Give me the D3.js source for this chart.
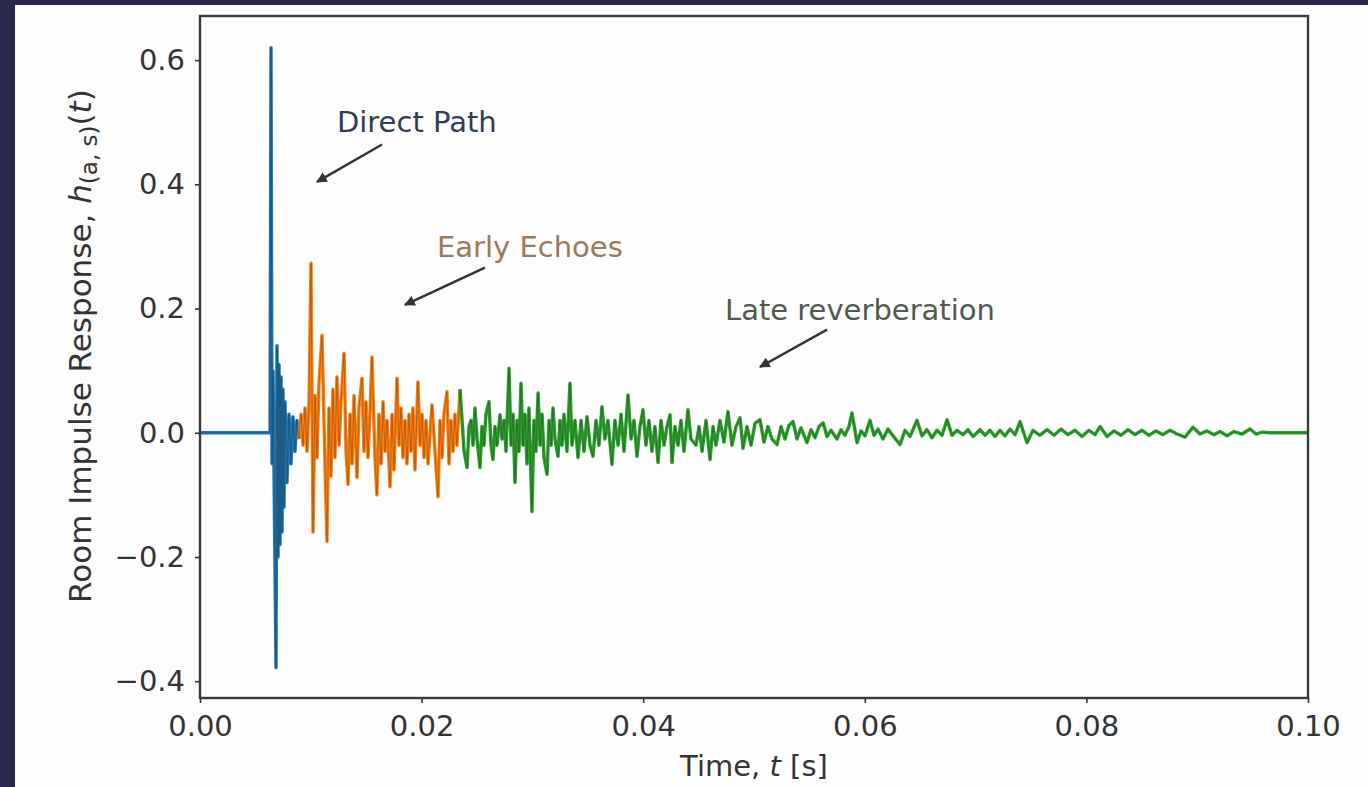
<!DOCTYPE html>
<html>
<head>
<meta charset="utf-8">
<style>
  body { margin: 0; background: #28284a; }
  text { font-family: "DejaVu Sans", sans-serif; }
</style>
<title>Room Impulse Response</title>
</head>
<body>
<script src="https://cdn.jsdelivr.net/npm/d3@7"></script>
<script>
// time in ms, amplitude in h units
var directTimes = [0, 6.32, 6.41, 6.50, 6.59, 6.77, 6.86, 6.95, 7.04, 7.13, 7.22, 7.31, 7.40, 7.49, 7.58, 7.67, 7.85, 8.03, 8.21, 8.39, 8.57, 8.75, 8.93];
var directValues = [0, 0, 0.62, -0.05, 0.10, -0.22, -0.378, 0.14, -0.20, 0.11, -0.18, 0.09, -0.16, 0.07, -0.12, 0.05, -0.08, 0.03, -0.05, 0.026, -0.03, 0.02, -0.01];

var earlyTimes = [8.93, 9.12, 9.30, 9.48, 9.66, 9.84, 10.02, 10.20, 10.38, 10.56, 10.74, 11.01, 11.28, 11.46, 11.64, 11.82, 12.00, 12.18, 12.36, 12.55, 12.73,
  13.00, 13.18, 13.36, 13.54, 13.72, 13.90, 14.17, 14.35, 14.62, 14.80, 14.98, 15.16, 15.34, 15.52, 15.79, 15.97, 16.15, 16.34, 16.52, 16.70, 16.88,
  17.15, 17.33, 17.51, 17.78, 17.96, 18.14, 18.32, 18.50, 18.68, 18.86, 19.04, 19.22, 19.40, 19.67, 19.86, 20.04, 20.22, 20.40, 20.58, 20.94, 21.21,
  21.48, 21.66, 21.84, 22.02, 22.29, 22.47, 22.65, 22.83, 23.01, 23.19, 23.47];
var earlyValues = [-0.01, 0.03, -0.02, 0.04, -0.03, 0.05, 0.273, -0.16, 0.06, -0.04, 0.08, 0.157, -0.05, -0.175, 0.04, -0.07, 0.07, -0.04, 0.09, -0.02, 0.05,
  0.128, -0.03, -0.083, 0.03, -0.05, 0.06, -0.072, 0.04, 0.088, -0.03, 0.05, -0.04, 0.03, 0.122, -0.04, -0.10, 0.03, -0.05, 0.05, -0.03, 0.02,
  -0.087, 0.03, -0.06, 0.088, -0.02, 0.04, -0.04, 0.02, -0.05, 0.03, -0.03, 0.04, -0.06, 0.082, -0.02, 0.03, -0.04, 0.02, -0.05, 0.045, -0.03,
  -0.103, 0.02, -0.04, 0.03, 0.066, -0.05, 0.02, -0.03, 0.03, -0.02, 0.07];

var lateTimes = [23.47, 23.65, 23.83, 24.10, 24.28, 24.46, 24.64, 24.82, 25.00, 25.27, 25.45, 25.63, 25.81, 26.08, 26.26, 26.44, 26.62, 26.81,
  27.08, 27.26, 27.44, 27.62, 27.89, 28.07, 28.25, 28.43, 28.61, 28.79, 28.97, 29.15, 29.33, 29.51, 29.69, 29.96, 30.14, 30.32, 30.51, 30.69,
  30.87, 31.05, 31.32, 31.50, 31.68, 31.86, 32.04, 32.31, 32.49, 32.67, 32.85, 33.12, 33.39, 33.57, 33.84, 34.12, 34.39, 34.66, 34.93, 35.20,
  35.47, 35.74, 36.01, 36.28, 36.55, 36.82, 37.18, 37.45, 37.73, 38.00, 38.27, 38.63, 38.90, 39.17, 39.44, 39.71, 39.98, 40.25, 40.52, 40.79,
  41.06, 41.34, 41.61, 41.88, 42.15, 42.42, 42.60, 42.87, 43.14, 43.41, 43.68, 44.04, 44.31, 44.77, 45.04, 45.31, 45.67, 46.03, 46.30, 46.57,
  46.93, 47.29, 47.65, 48.01, 48.38, 48.74, 49.01, 49.37, 49.73, 50.09, 50.54, 50.90, 51.26, 51.62, 52.08, 52.44, 52.80, 53.16, 53.52, 53.88,
  54.24, 54.78, 55.14, 55.51, 55.87, 56.23, 56.59, 56.95, 57.49, 57.85, 58.21, 58.57, 58.84, 59.30, 59.66, 60.02, 60.47, 60.83, 61.19, 61.64,
  62.09, 62.55, 63.18, 63.63, 64.08, 64.71, 65.16, 65.61, 66.06, 66.52, 66.97, 67.42, 67.87, 68.32, 68.86, 69.31, 69.77, 70.40, 70.85, 71.30,
  71.75, 72.20, 72.65, 73.10, 73.56, 74.01, 74.64, 75.18, 75.81, 76.44, 77.08, 77.71, 78.34, 78.97, 79.60, 80.23, 80.78, 81.23, 81.86, 82.49,
  83.12, 83.75, 84.39, 85.02, 85.65, 86.28, 86.91, 87.55, 88.18, 88.90, 89.62, 90.25, 90.88, 91.52, 92.06, 92.69, 93.32, 94.04, 94.77, 95.31,
  95.85, 96.57, 100];
var lateValues = [0.07, 0.02, -0.03, -0.056, 0.01, 0.02, -0.02, 0.04, -0.01, -0.056, 0.01, -0.02, 0.03, 0.05, -0.02, -0.043, 0.01, -0.02,
  0.029, -0.01, 0.02, -0.03, 0.104, -0.02, 0.03, -0.08, 0.02, -0.03, 0.08, -0.02, 0.03, -0.05, 0.04, -0.127, 0.02, -0.03, 0.064, -0.02,
  0.03, -0.04, -0.067, 0.02, -0.02, 0.04, -0.01, -0.038, 0.02, -0.02, 0.03, -0.03, 0.08, -0.02, 0.02, -0.04, 0.02, -0.03, 0.026, -0.02,
  -0.038, 0.02, -0.02, 0.042, -0.01, 0.02, -0.051, 0.02, -0.02, 0.03, -0.03, 0.061, -0.01, 0.02, -0.038, 0.01, 0.037, -0.02, 0.02, -0.03,
  0.01, -0.048, 0.02, -0.02, 0.01, 0.029, -0.048, 0.01, -0.02, 0.02, -0.03, 0.037, -0.01, -0.02, 0.01, -0.03, 0.02, -0.043, 0.01, -0.02,
  0.02, -0.015, 0.034, -0.02, 0.01, 0.024, -0.025, 0.01, -0.02, 0.015, 0.021, -0.015, 0.01, -0.01, -0.019, 0.01, -0.01, 0.012, 0.018, -0.01,
  0.008, -0.016, 0.005, -0.008, 0.01, 0.016, -0.006, 0.004, -0.01, 0.005, -0.004, 0.01, 0.032, -0.016, 0.003, -0.005, 0.02, -0.004, 0.006, -0.01,
  0.006, -0.005, -0.019, 0.004, -0.006, 0.02, -0.005, 0.005, -0.008, 0.004, -0.004, 0.021, -0.004, 0.004, -0.003, 0.005, -0.006, 0.005, -0.004, 0.004,
  -0.006, 0.004, -0.005, 0.006, -0.003, 0.018, -0.016, 0.004, -0.004, 0.005, -0.004, 0.006, -0.003, 0.004, -0.006, 0.004, -0.003, 0.01, -0.006, 0.003,
  -0.004, 0.005, -0.003, 0.004, -0.004, 0.003, -0.003, 0.004, -0.002, -0.007, 0.009, -0.002, 0.003, -0.003, 0.002, -0.005, 0.002, -0.002, 0.006, -0.002,
  0.001, 0, 0];

var xTicks = [0, 20, 40, 60, 80, 100];
var xTickLabels = ["0.00", "0.02", "0.04", "0.06", "0.08", "0.10"];
var yTicks = [-0.4, -0.2, 0.0, 0.2, 0.4, 0.6];
var yTickLabels = ["\u22120.4", "\u22120.2", "0.0", "0.2", "0.4", "0.6"];

var segmentNames = ["Direct Path", "Early Echoes", "Late reverberation"];
var segmentColors = ["#1f77b4", "#ff7f0e", "#2ca02c"];
var labelColors = ["#2f3d55", "#9a7a5c", "#505a50"];

// layout
var W = 1368, H = 787;
var margin = {top: 16, left: 200};
var width = 1108, height = 682;

var svg = d3.select("body").append("svg").attr("width", W).attr("height", H);
svg.append("rect").attr("width", W).attr("height", H).attr("fill", "#28284a");
svg.append("rect").attr("x", 15).attr("y", 5).attr("width", W - 15).attr("height", H - 5).attr("fill", "#fdfdfd");

var g = svg.append("g").attr("transform", "translate(" + margin.left + "," + margin.top + ")");

var x = d3.scaleLinear().domain([0, 100]).range([0, width]);
var y = d3.scaleLinear().domain([-0.427, 0.671]).range([height, 0]);

var line = d3.line().x(function(d) { return x(d[0]); }).y(function(d) { return y(d[1]); });

var segments = [d3.zip(directTimes, directValues), d3.zip(earlyTimes, earlyValues), d3.zip(lateTimes, lateValues)];

// coloured segments
g.selectAll(".seg").data(segments).join("path")
  .attr("class", "seg")
  .attr("d", line)
  .attr("fill", "none")
  .attr("stroke", function(d, i) { return segmentColors[i]; })
  .attr("stroke-width", 3.4)
  .attr("stroke-linejoin", "round");

// thin dark trace on top, gives the darker peaks
g.selectAll(".trace").data(segments).join("path")
  .attr("class", "trace")
  .attr("d", line)
  .attr("fill", "none")
  .attr("stroke", "#1a1a1a")
  .attr("stroke-opacity", 0.3)
  .attr("stroke-width", 1);

// axes
var xAxis = g.append("g").attr("transform", "translate(0," + height + ")")
  .call(d3.axisBottom(x).tickValues(xTicks).tickFormat(function(d, i) { return xTickLabels[i]; }).tickSize(5).tickPadding(12));
var yAxis = g.append("g")
  .call(d3.axisLeft(y).tickValues(yTicks).tickFormat(function(d, i) { return yTickLabels[i]; }).tickSize(5).tickPadding(10));

[xAxis, yAxis].forEach(function(a) {
  a.select(".domain").remove();
  a.selectAll("line").attr("stroke", "#333").attr("stroke-width", 1.6);
  a.selectAll("text").attr("fill", "#333").style("font-size", "29px").style("font-family", "DejaVu Sans");
});

g.append("rect").attr("width", width).attr("height", height)
  .attr("fill", "none").attr("stroke", "#3a3a3a").attr("stroke-width", 2.4);

// axis labels
var xl = svg.append("text").attr("x", 754).attr("y", 776).attr("text-anchor", "middle")
  .attr("fill", "#333").style("font-size", "29px");
xl.append("tspan").text("Time, ");
xl.append("tspan").attr("font-style", "italic").text("t");
xl.append("tspan").text(" [s]");

var yl = svg.append("text").attr("transform", "translate(91,346) rotate(-90)").attr("text-anchor", "middle")
  .attr("fill", "#333").style("font-size", "31px");
yl.append("tspan").text("Room Impulse Response, ");
yl.append("tspan").attr("font-style", "italic").text("h");
yl.append("tspan").attr("font-size", "23px").attr("dy", 6).text("(a, s)");
yl.append("tspan").attr("dy", -6).text("(");
yl.append("tspan").attr("font-style", "italic").text("t");
yl.append("tspan").text(")");

// annotations: text baseline and arrow (from, to) in data units
var noteText = [[12.36, 0.485], [21.39, 0.283], [47.38, 0.182]];
var noteFrom = [[16.43, 0.464], [25.72, 0.266], [56.59, 0.166]];
var noteTo = [[10.56, 0.404], [18.50, 0.206], [50.54, 0.106]];

svg.append("defs").append("marker")
  .attr("id", "head").attr("viewBox", "0 0 10 10").attr("refX", 9).attr("refY", 5)
  .attr("markerWidth", 4.5).attr("markerHeight", 4.5).attr("orient", "auto")
  .append("path").attr("d", "M0,0L10,5L0,10z").attr("fill", "#333");

segmentNames.forEach(function(name, i) {
  g.append("text").attr("x", x(noteText[i][0])).attr("y", y(noteText[i][1]))
    .attr("fill", labelColors[i]).style("font-size", "29px").text(name);
  g.append("line")
    .attr("x1", x(noteFrom[i][0])).attr("y1", y(noteFrom[i][1]))
    .attr("x2", x(noteTo[i][0])).attr("y2", y(noteTo[i][1]))
    .attr("stroke", "#333").attr("stroke-width", 2.4).attr("marker-end", "url(#head)");
});
</script>
</body>
</html>
